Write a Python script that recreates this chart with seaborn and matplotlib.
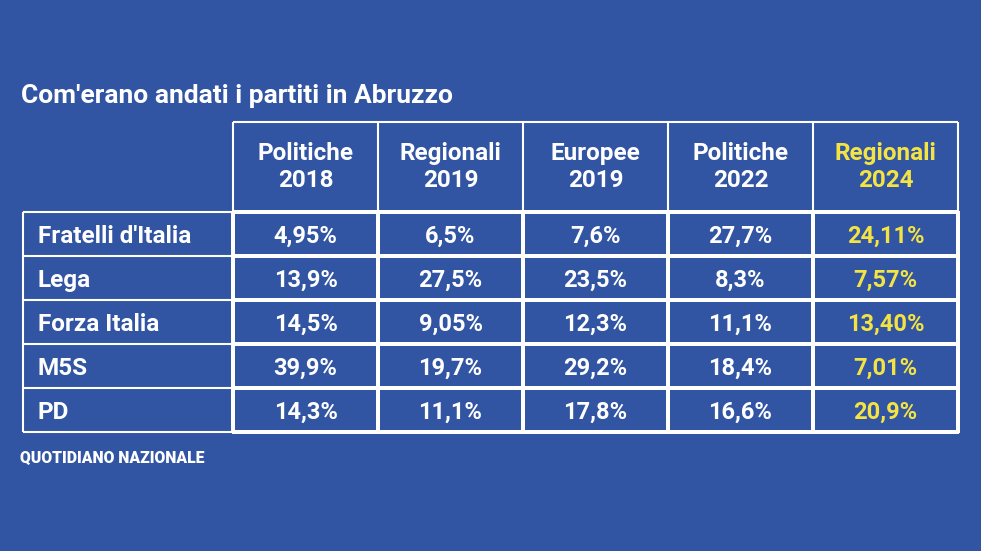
import pandas as pd
import matplotlib.pyplot as plt
from matplotlib.colors import ListedColormap
import seaborn as sns

# Table content
parties = ["Fratelli d'Italia", "Lega", "Forza Italia", "M5S", "PD"]
elections = ["Politiche\n2018", "Regionali\n2019", "Europee\n2019", "Politiche\n2022", "Regionali\n2024"]
politiche_2018 = ["4,95%", "13,9%", "14,5%", "39,9%", "14,3%"]
regionali_2019 = ["6,5%", "27,5%", "9,05%", "19,7%", "11,1%"]
europee_2019 = ["7,6%", "23,5%", "12,3%", "29,2%", "17,8%"]
politiche_2022 = ["27,7%", "8,3%", "11,1%", "18,4%", "16,6%"]
regionali_2024 = ["24,11%", "7,57%", "13,40%", "7,01%", "20,9%"]

BG = '#3155a2'
YELLOW = '#f4e443'

plt.rcParams['font.family'] = ['Roboto', 'DejaVu Sans']

labels_df = pd.DataFrame(
    dict(zip(elections, [politiche_2018, regionali_2019, europee_2019, politiche_2022, regionali_2024])),
    index=parties)
values_df = labels_df.apply(lambda c: c.str.rstrip('%').str.replace(',', '.').astype(float))

fig = plt.figure(figsize=(9.81, 5.51), dpi=100, facecolor=BG)
ax = fig.add_axes([23 / 981, 119 / 551, 935 / 981, 310 / 551])

sns.heatmap(values_df, cmap=ListedColormap([BG]), annot=labels_df.values, fmt='',
            cbar=False, linewidths=1.5, linecolor='white',
            annot_kws=dict(fontsize=17, fontweight='bold', color='white'), ax=ax)
ax.collections[0].set_clip_on(False)

# width of the party column and height of the header, in cell units
lw = 210 / 145
hh = 90 / 44
ax.set_xlim(-lw, 5)
ax.set_ylim(5, -hh)
ax.set_axis_off()

cap = 0.2
for t in ax.texts:
    x, y = t.get_position()
    t.set_verticalalignment('baseline')
    t.set_position((x, y + cap))
    if x > 4:
        t.set_color(YELLOW)

for i, p in enumerate(parties):
    ax.text(-lw + 0.1, i + 0.5 + cap, p, ha='left', va='baseline',
            fontsize=17.5, fontweight='bold', color='white')

for j, e in enumerate(elections):
    ax.text(j + 0.5, -hh / 2, e, ha='center', va='center', linespacing=1.2,
            fontsize=17.5, fontweight='bold', color=YELLOW if j == 4 else 'white')

line = dict(colors='white', lw=1.5, clip_on=False)
ax.hlines(range(6), -lw, 0, **line)
ax.vlines(-lw, 0, 5, **line)
ax.vlines(range(6), -hh, 0, **line)
ax.hlines(-hh, 0, 5, **line)

fig.text(21 / 981, 1 - 103 / 551, "Com'erano andati i partiti in Abruzzo",
         fontsize=19, fontweight='bold', color='white', va='baseline')
fig.text(20 / 981, 1 - 463 / 551, "QUOTIDIANO NAZIONALE",
         fontsize=11.3, fontweight='heavy', color='white', va='baseline')

fig.savefig('out.png', dpi=100, facecolor=BG)
